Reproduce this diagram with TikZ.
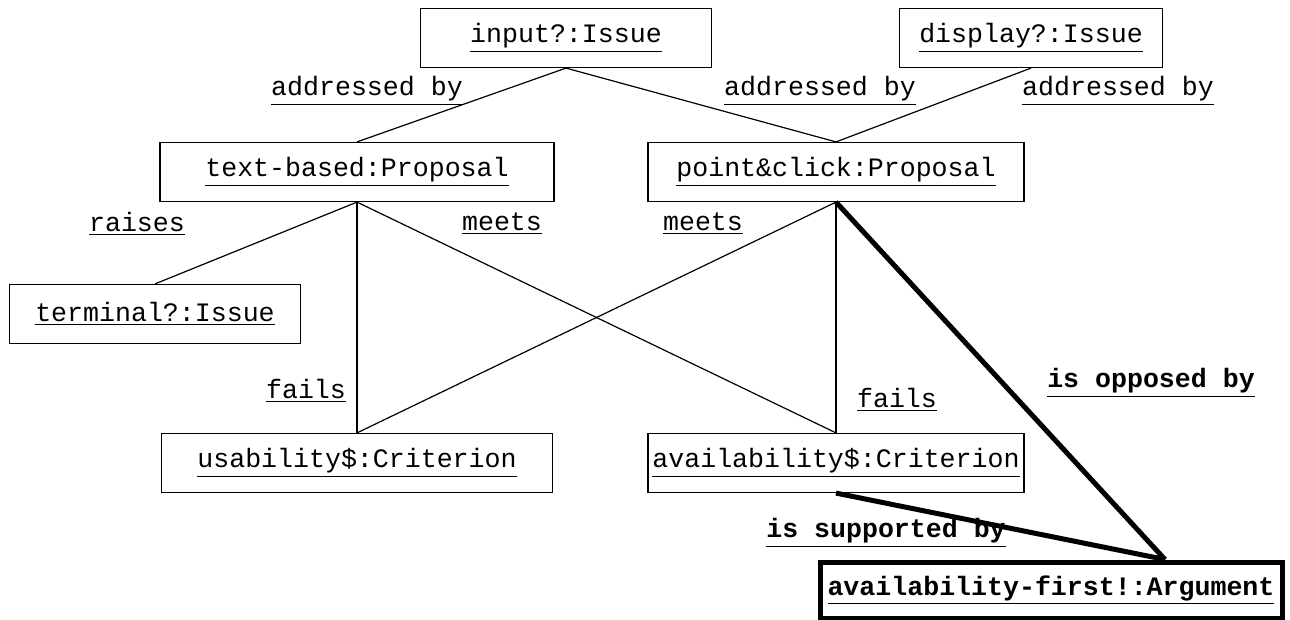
\documentclass[tikz,border=0pt]{standalone}
\usepackage{fontspec}
\setmainfont{Liberation Mono}
\usepackage{tikz}

\tikzset{
  obj/.style={draw, line width=0.6pt, minimum height=29.5pt, inner sep=0pt,
    font=\fontsize{13.3}{16}\selectfont},
  rel/.style={inner sep=0pt, font=\fontsize{13.3}{16}\selectfont},
  link/.style={line width=0.6pt},
  strong/.style={line width=2.5pt},
}

\begin{document}
\begin{tikzpicture}[x=0.5pt,y=-0.5pt]
\useasboundingbox (0,0) rectangle (1290,620);

% objects
\node [obj, minimum width=145.5pt] (input) at (566,38) {\underline{input?:Issue}};
\node [obj, minimum width=131.5pt] (display) at (1031,38) {\underline{display?:Issue}};
\node [obj, minimum width=197pt] (textbased) at (357,172) {\underline{text-based:Proposal}};
\node [obj, minimum width=188pt] (pointclick) at (836,172) {\underline{point\&click:Proposal}};
\node [obj, minimum width=145.5pt] (terminal) at (155,314) {\underline{terminal?:Issue}};
\node [obj, minimum width=195.5pt] (usability) at (357,463) {\underline{usability\$:Criterion}};
\node [obj, minimum width=188pt] (availability) at (836,463) {\underline{availability\$:Criterion}};
\node [obj, line width=2.5pt, minimum width=231pt, minimum height=28pt] (argument) at (1051,590)
  {\textbf{\underline{availability-first!:Argument}}};
\coordinate (argtop) at ([xshift=57pt]argument.north);

% relations
\draw [link] (input.south) -- (textbased.north);
\draw [link] (input.south) -- (pointclick.north);
\draw [link] (display.south) -- (pointclick.north);
\draw [link] (textbased.south) -- (terminal.north);
\draw [link] (textbased.south) -- (usability.north);
\draw [link] (textbased.south) -- (availability.north);
\draw [link] (pointclick.south) -- (usability.north);
\draw [link] (pointclick.south) -- (availability.north);
\draw [strong] (pointclick.south) -- (argtop);
\draw [strong] (availability.south) -- (argtop);

% labels
\node [rel] (addr1) at (367,91) {\underline{addressed by}};
\node [rel] (addr2) at (820,91) {\underline{addressed by}};
\node [rel] (addr3) at (1118,91) {\underline{addressed by}};
\node [rel] (raises) at (137,224) {\underline{raises}};
\node [rel] (meets1) at (502,224) {\underline{meets}};
\node [rel] (meets2) at (703,224) {\underline{meets}};
\node [rel] (fails1) at (306,391) {\underline{fails}};
\node [rel] (fails2) at (897,400) {\underline{fails}};
\node [rel] (opposed) at (1151,383) {\textbf{\underline{is opposed by}}};
\node [rel] (supported) at (886,533) {\textbf{\underline{is supported by}}};

\end{tikzpicture}
\end{document}
